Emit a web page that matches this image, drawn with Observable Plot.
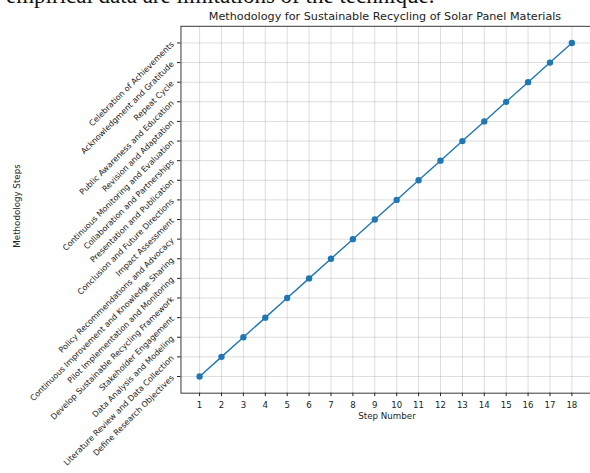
<!DOCTYPE html>
<html>
<head>
<meta charset="utf-8">
<script src="https://cdn.jsdelivr.net/npm/d3@7"></script>
<script src="https://cdn.jsdelivr.net/npm/@observablehq/plot@0.6"></script>
<style>
  html, body { margin: 0; padding: 0; background: #fff; width: 590px; height: 473px; overflow: hidden; }
  #wrap { position: relative; width: 590px; height: 473px; overflow: hidden; font-family: "DejaVu Sans", sans-serif; }
  #chart { position: absolute; left: 0; top: 0; }
  .txt { position: absolute; white-space: nowrap; color: #222; }
</style>
</head>
<body>
<div id="wrap">
  <div id="chart"></div>
  <div class="txt" id="doc" style="left:6px; top:-17px; font-family:'Liberation Serif', serif; font-size:23px; color:#111;">empirical data are limitations of the technique.</div>
  <div class="txt" id="title" style="left:385px; top:10px; transform:translateX(-50%); font-size:11.2px;">Methodology for Sustainable Recycling of Solar Panel Materials</div>
  <div class="txt" id="xlabel" style="left:387px; top:411px; transform:translateX(-50%); font-size:8.7px;">Step Number</div>
  <div class="txt" id="ylabel" style="left:17px; top:206px; transform:translate(-50%,-50%) rotate(-90deg); font-size:8.7px;">Methodology Steps</div>
</div>
<script>
const stepNumbers = [1,2,3,4,5,6,7,8,9,10,11,12,13,14,15,16,17,18];
const stepNames = [
  "Define Research Objectives",
  "Literature Review and Data Collection",
  "Data Analysis and Modeling",
  "Stakeholder Engagement",
  "Develop Sustainable Recycling Framework",
  "Pilot Implementation and Monitoring",
  "Continuous Improvement and Knowledge Sharing",
  "Policy Recommendations and Advocacy",
  "Impact Assessment",
  "Conclusion and Future Directions",
  "Presentation and Publication",
  "Collaboration and Partnerships",
  "Continuous Monitoring and Evaluation",
  "Revision and Adaptation",
  "Public Awareness and Education",
  "Repeat Cycle",
  "Acknowledgment and Gratitude",
  "Celebration of Achievements"
];
const stepPositions = [1,2,3,4,5,6,7,8,9,10,11,12,13,14,15,16,17,18];

const data = stepNumbers.map((s, i) => ({step: s, pos: stepPositions[i], name: stepNames[i]}));
const color = "#1f77b4";

const chart = Plot.plot({
  width: 595,
  height: 473,
  marginLeft: 182,
  marginRight: 0,
  marginTop: 26,
  marginBottom: 77,
  style: {fontFamily: "DejaVu Sans, sans-serif", fontSize: "8.7px", color: "#222", background: "transparent"},
  x: {domain: [0.15, 18.85]},
  y: {domain: [0.15, 18.85]},
  marks: [
    Plot.gridX(stepNumbers, {stroke: "#b0b0b0", strokeOpacity: 0.55, strokeWidth: 0.8}),
    Plot.gridY(stepPositions, {stroke: "#b0b0b0", strokeOpacity: 0.55, strokeWidth: 0.8}),
    Plot.axisX(stepNumbers, {tickSize: 3.5, tickPadding: 5, label: null, fontSize: 8.7}),
    Plot.axisY(stepPositions, {
      tickSize: 3.5, tickPadding: 5, label: null, fontSize: 8.1,
      tickRotate: -45,
      tickFormat: d => stepNames[stepPositions.indexOf(d)]
    }),
    Plot.frame({stroke: "#222", strokeWidth: 0.9}),
    Plot.line(data, {x: "step", y: "pos", stroke: color, strokeWidth: 1.4}),
    Plot.dot(data, {x: "step", y: "pos", r: 3.2, fill: color, stroke: "none"})
  ]
});
document.getElementById("chart").appendChild(chart);
</script>
</body>
</html>
